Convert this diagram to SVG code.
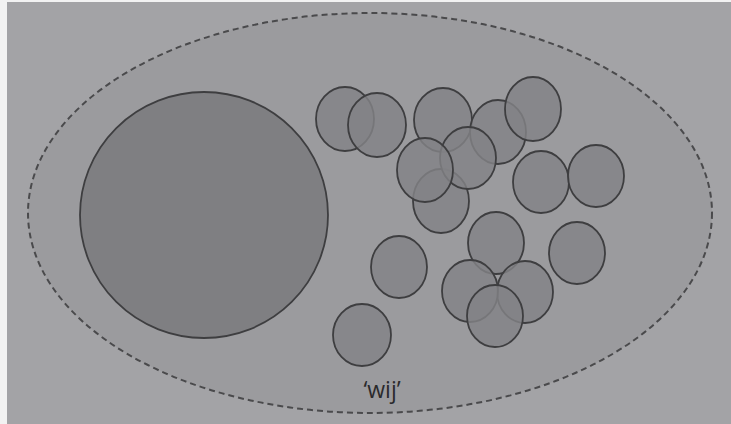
<svg xmlns="http://www.w3.org/2000/svg" width="731" height="424" viewBox="0 0 731 424">
<style>
.c{fill:#838386;fill-opacity:0.82;stroke:#3e3e40;stroke-width:1.8}
.big{fill:#7f7f82;stroke:#3e3e40;stroke-width:1.8}
.outer{fill:#9b9b9e;stroke:#4a4a4c;stroke-width:2;stroke-dasharray:6 4}
.lbl{font-family:"Open Sans","Noto Sans",sans-serif;font-size:23px;fill:#2a2a2c}
</style>
<rect x="0" y="0" width="731" height="424" fill="#f2f2f2"/>
<rect x="7" y="2" width="724" height="422" fill="#a3a3a6"/>
<g id="wij">
<ellipse class="outer" cx="370" cy="213" rx="342" ry="200"/>
<text class="lbl" x="382" y="398" text-anchor="middle">‘wij’</text>
</g>
<g id="big-circle"><ellipse class="big" cx="204" cy="215" rx="124" ry="123"/></g>
<g id="small-circles">
<g id="c1"><ellipse class="c" cx="345" cy="119" rx="29" ry="32"/></g>
<g id="c2"><ellipse class="c" cx="377" cy="125" rx="29" ry="32"/></g>
<g id="c3"><ellipse class="c" cx="443" cy="120" rx="29" ry="32"/></g>
<g id="c4"><ellipse class="c" cx="498" cy="132" rx="28" ry="32"/></g>
<g id="c5"><ellipse class="c" cx="533" cy="109" rx="28" ry="32"/></g>
<g id="c8"><ellipse class="c" cx="441" cy="201" rx="28" ry="32"/></g>
<g id="c6"><ellipse class="c" cx="468" cy="158" rx="28" ry="31"/></g>
<g id="c7"><ellipse class="c" cx="425" cy="170" rx="28" ry="32"/></g>
<g id="c9"><ellipse class="c" cx="541" cy="182" rx="28" ry="31"/></g>
<g id="c10"><ellipse class="c" cx="596" cy="176" rx="28" ry="31"/></g>
<g id="c11"><ellipse class="c" cx="496" cy="243" rx="28" ry="31"/></g>
<g id="c12"><ellipse class="c" cx="577" cy="253" rx="28" ry="31"/></g>
<g id="c13"><ellipse class="c" cx="399" cy="267" rx="28" ry="31"/></g>
<g id="c15"><ellipse class="c" cx="525" cy="292" rx="28" ry="31"/></g>
<g id="c14"><ellipse class="c" cx="470" cy="291" rx="28" ry="31"/></g>
<g id="c16"><ellipse class="c" cx="495" cy="316" rx="28" ry="31"/></g>
<g id="c17"><ellipse class="c" cx="362" cy="335" rx="29" ry="31"/></g>
</g>
</svg>
